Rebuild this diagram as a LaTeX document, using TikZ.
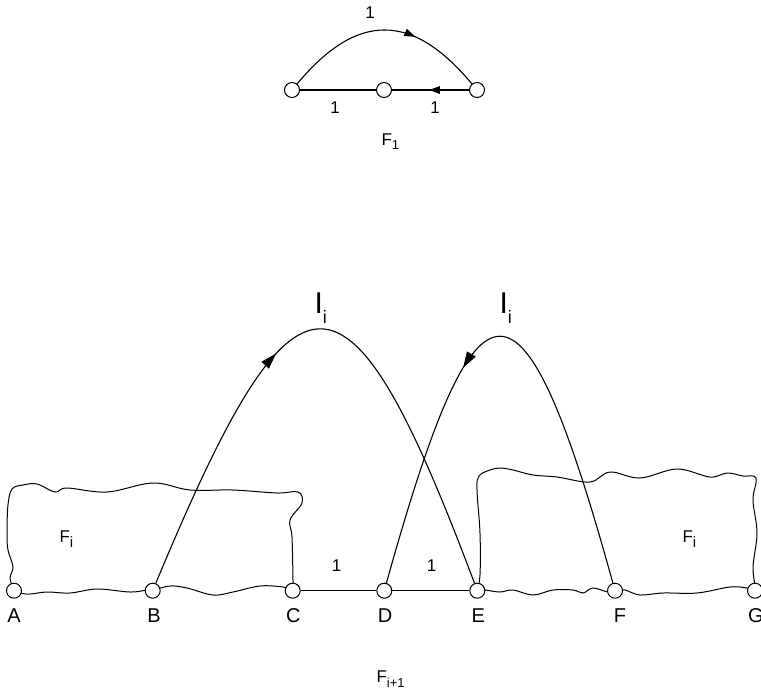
\documentclass[tikz,border=0pt]{standalone}
\usepackage{fontspec}
\setmainfont{Liberation Sans}
\usetikzlibrary{arrows.meta,decorations.markings}
\newcommand{\mysub}[3]{\raisebox{-#1}{\fontsize{#2}{#2}\selectfont #3}}
\tikzset{
  vtx/.style={circle,draw,fill=white,inner sep=0pt,minimum size=7.5pt,line width=0.5pt},
  letter/.style={font=\fontsize{10}{10}\selectfont,inner sep=0pt},
  one/.style={font=\fontsize{8.5}{9}\selectfont,inner sep=0pt},
  flab/.style={font=\fontsize{8.5}{9}\selectfont,inner sep=0pt,anchor=base west},
  ilab/.style={font=\fontsize{15}{15}\selectfont,inner sep=0pt,anchor=base west},
  wavy/.style={line width=0.5pt,smooth,tension=0.6},
  smallarrow/.style={postaction={decorate},decoration={markings,
     mark=at position #1 with {\arrow{Triangle[length=5.5pt,width=3.8pt]}}}},
  bigarrow/.style={postaction={decorate},decoration={markings,
     mark=at position #1 with {\arrow{Triangle[length=8pt,width=5pt]}}}},
}
\begin{document}
\begin{tikzpicture}[x=0.5pt,y=-0.5pt,line width=0.55pt]
\useasboundingbox (0,0) rectangle (761,692);

% wavy regions F_i
\draw[wavy] plot coordinates {(14,590) (10,578) (13,567) (8,550) (7,533) (8,505) (12,489) (23,485) (37,484) (55,492) (67,488) (107,492) (153,483) (190,490) (233,490) (277,493) (298,492) (302,503) (290,520) (292,537) (293,580) (293,590) (283,587) (260,586) (233,592) (213,595) (187,588) (170,586) (153,590) (147,590) (130,592) (97,589) (70,593) (47,592) (30,594) (20,593) (14,590)};
\draw[wavy] plot coordinates {(477,590) (480,575) (480,533) (477,490) (479,476) (490,470) (500,468) (513,470) (533,475) (557,477) (590,482) (610,472) (640,478) (677,469) (710,477) (727,473) (743,476) (756,478) (753,500) (757,533) (753,567) (755,590) (747,588) (730,587) (697,593) (663,593) (640,595) (625,590) (615,590) (608,592) (593,588) (583,593) (573,590) (553,590) (533,595) (513,590) (500,592) (485,590) (477,590)};

% top graph F_1
\node[vtx] (t1) at (292,90) {};
\node[vtx] (t2) at (384,90) {};
\node[vtx] (t3) at (477,90) {};
\draw (t1) -- (t2);
\draw[smallarrow=0.52] (t3) -- (t2);
\draw[smallarrow=0.65] (t1) .. controls (357,12) and (412,12) .. (t3);
\node[one] (ta) at (370,12.5) {1};
\node[one] (tb) at (335,107.5) {1};
\node[one] (tc) at (435,107.5) {1};
\node[flab] (f1) at (381,145) {F\mysub{2.2pt}{6.5}{1}};

% bottom graph
\node[vtx] (A) at (14,590.7) {};
\node[vtx] (B) at (152.7,590.7) {};
\node[vtx] (C) at (292.7,590.7) {};
\node[vtx] (D) at (384.3,590.7) {};
\node[vtx] (E) at (477.3,590.7) {};
\node[vtx] (F) at (615,590.7) {};
\node[vtx] (G) at (755,590.7) {};
\draw (C) -- (D);
\draw (D) -- (E);
\draw[bigarrow=0.42] (B) .. controls (297,244) and (347,244) .. (E);
\draw[bigarrow=0.59] (F) .. controls (522,254) and (478,254) .. (D);

\node[one] (l1) at (336.7,566) {1};
\node[one] (l2) at (431.7,566) {1};
\node[letter] (lA) at (14,615.7) {A};
\node[letter] (lB) at (154,615.7) {B};
\node[letter] (lC) at (293.3,615.7) {C};
\node[letter] (lD) at (385,615.7) {D};
\node[letter] (lE) at (478.3,615.7) {E};
\node[letter] (lF) at (620,615.7) {F};
\node[letter] (lG) at (756,615.7) {G};

\node[flab] (fl) at (59,542) {F\mysub{2.8pt}{7.5}{i}};
\node[flab] (fr) at (682,542) {F\mysub{2.8pt}{7.5}{i}};
\node[ilab] (i1) at (314,313) {I\mysub{5pt}{9}{i}};
\node[ilab] (i2) at (499,313) {I\mysub{5pt}{9}{i}};
\node[flab] (fb) at (376,682) {F\mysub{2.5pt}{6.5}{i+1}};
\end{tikzpicture}
\end{document}
